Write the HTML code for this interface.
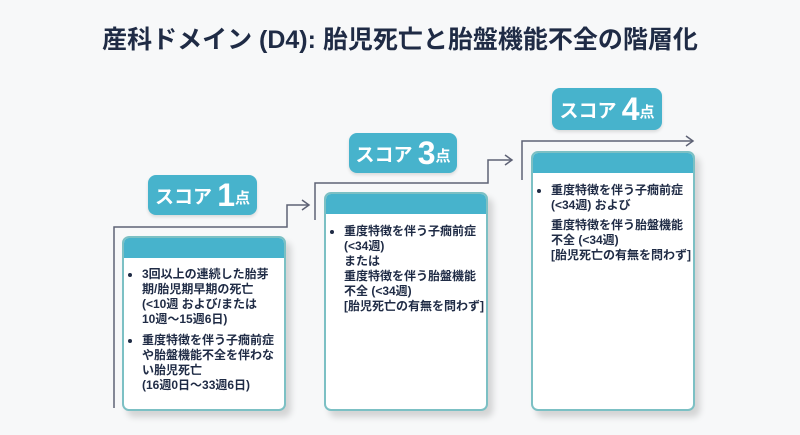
<!DOCTYPE html>
<html><head><meta charset="utf-8"><style>
body{margin:0;width:800px;height:435px;background:#f7f8f9;position:relative;overflow:hidden;font-family:"Liberation Sans","Noto Sans CJK JP",sans-serif;color:#1f2b45}
.t{position:absolute;left:0;width:800px;top:20px;text-align:center;font-size:25px;font-weight:bold;color:#1f2b45}
.badge{position:absolute;background:#47b3cc;border-radius:8px;color:#fff;font-weight:bold;font-size:19px;text-align:center;box-shadow:0 2px 3px rgba(0,0,0,.12)}
.badge b{font-size:32px;vertical-align:-3px}
.badge small{font-size:15px;font-weight:bold}
.box{position:absolute;background:#fff;border:2px solid #7cc0c4;border-radius:7px;box-shadow:5px 6px 7px rgba(0,0,0,.15);overflow:hidden}
.box .h{height:20px;background:#47b3cc}
.box ul{margin:0;padding:0 0 0 18px;font-size:12px;font-weight:bold;line-height:15px;white-space:nowrap}
.box li{margin-bottom:6px}
</style></head><body>
<div class="t">産科ドメイン (D4): 胎児死亡と胎盤機能不全の階層化</div>
<svg width="800" height="435" style="position:absolute;left:0;top:0" fill="none" stroke="#5e6275" stroke-width="1.5">
<path d="M114 408V227H287V205H309"/><path d="M302 200l7 5-7 5"/>
<path d="M315 220V183H488V160H512"/><path d="M505 155l7 5-7 5"/>
<path d="M522 180V141H693"/><path d="M686 136l7 5-7 5"/>
</svg>
<div class="badge" style="left:148px;top:175px;width:109px;height:40px;line-height:40px">スコア <b>1</b><small>点</small></div>
<div class="badge" style="left:349px;top:133px;width:108px;height:40px;line-height:40px">スコア <b>3</b><small>点</small></div>
<div class="badge" style="left:552px;top:88px;width:110px;height:42px;line-height:42px">スコア <b>4</b><small>点</small></div>
<div class="box" style="left:122px;top:236px;width:160px;height:171px"><div class="h"></div>
<ul style="margin-top:9px"><li>3回以上の連続した胎芽<br>期/胎児期早期の死亡<br>(&lt;10週 および/または<br>10週〜15週6日)</li><li>重度特徴を伴う子癇前症<br>や胎盤機能不全を伴わな<br>い胎児死亡<br>(16週0日〜33週6日)</li></ul></div>
<div class="box" style="left:324px;top:192px;width:160px;height:215px"><div class="h"></div>
<ul style="margin-top:10px"><li>重度特徴を伴う子癇前症<br>(&lt;34週)<br>または<br>重度特徴を伴う胎盤機能<br>不全 (&lt;34週)<br>[胎児死亡の有無を問わず]</li></ul></div>
<div class="box" style="left:531px;top:151px;width:160px;height:256px"><div class="h"></div>
<ul style="margin-top:10px"><li>重度特徴を伴う子癇前症<br>(&lt;34週) および<div style="height:5px"></div>重度特徴を伴う胎盤機能<br>不全 (&lt;34週)<br>[胎児死亡の有無を問わず]</li></ul></div>
</body></html>
